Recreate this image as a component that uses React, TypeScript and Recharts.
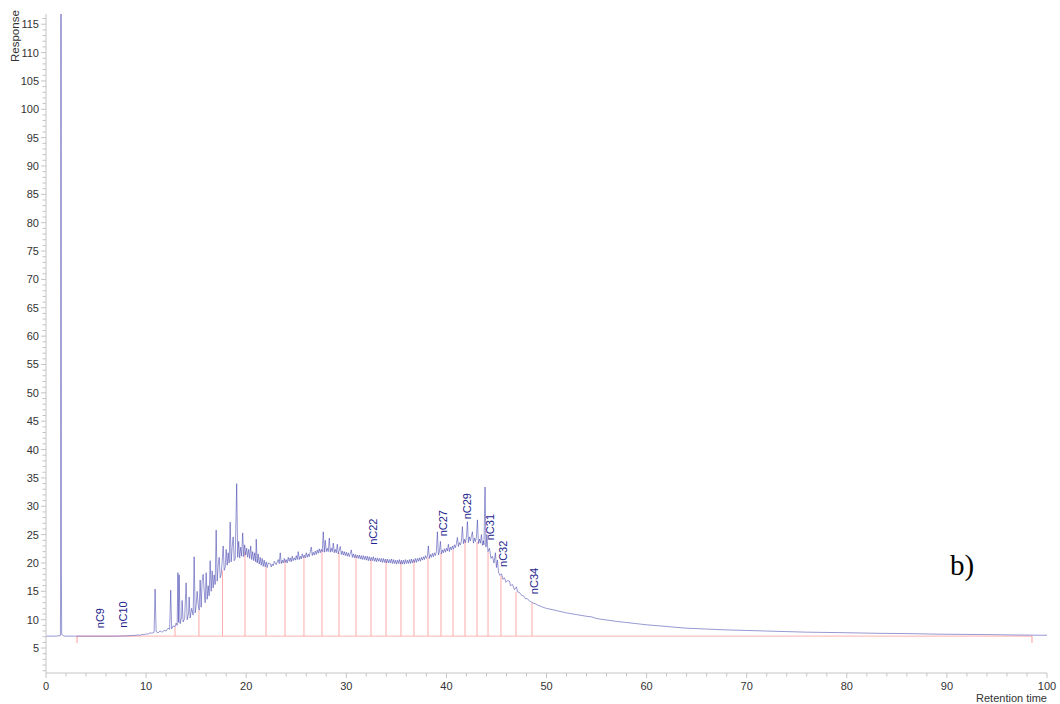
import React from 'react';
import { ComposedChart, Line, Scatter, XAxis, YAxis, ReferenceLine } from 'recharts';

// Chromatogram trace, [retention time, response]
const solventPeak: [number, number][] = [
  [0, 7.1], [1.0, 7.1], [1.44, 7.2], [1.47, 18.5], [1.5, 117], [1.53, 18.5], [1.57, 7.4],
  [1.8, 7.1], [3, 7.1], [5, 7.1], [7, 7.1], [8, 7.15], [8.6, 7.2], [9, 7.25],
];

const earlyTrace: [number, number][] = [
  [9.2, 7.3], [9.4, 7.25], [9.6, 7.4], [9.8, 7.35], [10.0, 7.5], [10.2, 7.45], [10.4, 7.7],
  [10.6, 7.6], [10.8, 7.8], [10.9, 15.4], [11.0, 7.9], [11.2, 7.7], [11.4, 8.0], [11.6, 7.8],
  [11.8, 8.1], [12.0, 8.0], [12.2, 8.5], [12.35, 8.3], [12.46, 15.2], [12.55, 8.4], [12.7, 8.9],
  [12.9, 8.8], [13.0, 9.4], [13.1, 9.0], [13.18, 18.3], [13.25, 9.5], [13.3, 17.9], [13.4, 9.3],
  [13.55, 10.5], [13.6, 13.4], [13.7, 9.6], [13.85, 10.2], [14.0, 16.5], [14.1, 10.0],
  [14.25, 11.2], [14.3, 14.0], [14.4, 10.3], [14.55, 12.0], [14.7, 10.8], [14.8, 21.1],
  [14.9, 11.2], [15.0, 12.5], [15.1, 15.0], [15.2, 12.8], [15.3, 11.7],
];

const humpTrace: [number, number][] = [
  [15.4, 17.0], [15.5, 12.2], [15.6, 16.8], [15.7, 18.0], [15.8, 15.2], [15.9, 13.0], [16.0, 18.3],
  [16.1, 13.6], [16.2, 16.0], [16.3, 14.2], [16.4, 20.4], [16.5, 15.0], [16.6, 18.6], [16.7, 15.6],
  [16.8, 17.9], [16.9, 16.2], [17.0, 25.8], [17.1, 16.8], [17.2, 19.6], [17.3, 21.0], [17.4, 17.4],
  [17.5, 18.0], [17.6, 20.3], [17.7, 23.0], [17.8, 18.7], [17.9, 19.2], [18.0, 22.4], [18.1, 19.6],
  [18.2, 21.8], [18.3, 20.0], [18.4, 27.2], [18.5, 20.2], [18.6, 22.9], [18.7, 24.6], [18.8, 20.4],
  [18.9, 20.7], [19.05, 34.0], [19.15, 21.0], [19.25, 23.8], [19.35, 20.9], [19.45, 22.8],
  [19.55, 21.2], [19.65, 25.3], [19.75, 21.1], [19.85, 23.2], [19.95, 21.4], [20.05, 22.6],
  [20.15, 21.0], [20.25, 22.4], [20.35, 20.8], [20.45, 23.0], [20.55, 20.6], [20.65, 22.0],
  [20.75, 20.4], [20.85, 21.8], [20.95, 20.2], [21.0, 24.2], [21.1, 20.0], [21.2, 21.6],
  [21.3, 19.8], [21.4, 21.0], [21.5, 19.6], [21.6, 20.8], [21.7, 19.4], [21.8, 20.5], [21.9, 19.3],
  [22.0, 20.2], [22.1, 19.2], [22.2, 20.0],
];

const plateauTrace: [number, number][] = [
  [22.4, 19.9], [22.5, 19.3], [22.6, 19.8], [22.7, 19.5], [22.8, 20.3], [23.0, 19.7], [23.1, 20.2],
  [23.2, 20.6], [23.3, 19.9], [23.4, 21.8], [23.5, 19.9], [23.6, 20.5], [23.7, 20.0], [23.8, 20.8],
  [23.9, 20.1], [24.0, 20.6], [24.1, 20.0], [24.2, 21.0], [24.3, 20.3], [24.4, 20.9], [24.5, 20.2],
  [24.6, 21.2], [24.7, 20.4], [24.8, 20.9], [24.9, 20.5], [25.0, 21.3], [25.1, 20.6], [25.2, 22.0],
  [25.3, 20.6], [25.4, 21.2], [25.5, 20.7], [25.6, 21.6], [25.7, 20.9], [25.8, 21.4], [25.9, 20.9],
  [26.0, 21.8], [26.1, 21.0], [26.2, 21.6], [26.3, 21.1], [26.4, 22.0], [26.5, 22.8], [26.6, 21.3],
  [26.7, 21.9], [26.8, 21.4], [26.9, 22.1], [27.0, 21.5], [27.1, 22.3], [27.2, 21.7], [27.3, 22.5],
  [27.4, 21.8], [27.5, 22.4], [27.6, 22.0], [27.7, 25.5], [27.8, 21.9], [27.9, 24.0], [28.0, 22.0],
  [28.1, 22.6], [28.2, 22.0], [28.3, 24.4], [28.4, 21.9], [28.5, 22.6], [28.6, 22.0], [28.7, 23.5],
  [28.8, 21.8], [28.9, 22.4], [29.0, 21.8], [29.1, 23.3], [29.2, 21.6], [29.3, 22.3], [29.4, 22.9],
  [29.5, 21.5], [29.6, 22.1], [29.7, 21.4], [29.8, 22.0], [29.9, 21.3], [30.0, 21.9], [30.1, 21.2],
  [30.2, 21.8], [30.3, 21.1], [30.4, 21.7], [30.5, 22.3], [30.6, 21.0], [30.7, 21.6], [30.8, 20.9],
  [30.9, 21.5], [31.0, 20.9], [31.1, 21.4], [31.2, 20.8], [31.3, 21.4], [31.4, 20.7], [31.5, 21.3],
  [31.6, 20.6], [31.7, 21.3], [31.8, 20.6], [31.9, 21.2], [32.0, 20.5], [32.1, 21.2], [32.2, 20.4],
  [32.3, 21.1], [32.4, 20.4], [32.5, 21.0], [32.6, 20.4], [32.7, 21.1], [32.8, 20.3], [32.9, 20.9],
  [33.0, 20.2], [33.1, 20.9], [33.2, 20.3], [33.3, 20.8], [33.4, 20.2], [33.5, 20.8], [33.6, 20.1],
  [33.7, 20.8], [33.8, 20.1], [33.9, 20.7], [34.0, 20.0], [34.1, 20.7], [34.2, 20.0], [34.3, 20.6],
  [34.4, 20.0], [34.5, 20.7], [34.6, 19.9], [34.7, 20.6], [34.8, 19.9], [34.9, 20.5], [35.0, 19.8],
  [35.1, 20.5], [35.2, 19.9], [35.3, 20.6], [35.4, 19.8], [35.5, 20.5], [35.6, 19.8], [35.7, 20.5],
  [35.8, 19.8], [35.9, 20.6], [36.0, 19.9], [36.1, 20.5], [36.2, 19.9], [36.3, 20.6], [36.4, 19.9],
  [36.5, 20.7], [36.6, 20.0], [36.7, 20.6], [36.8, 20.1], [36.9, 20.8], [37.0, 20.1], [37.1, 20.8],
  [37.2, 20.3], [37.3, 20.9], [37.4, 20.3], [37.5, 21.0], [37.6, 20.5], [37.7, 21.1], [37.8, 20.6],
  [37.9, 21.3], [38.0, 20.8], [38.1, 21.2], [38.2, 23.0], [38.3, 20.8], [38.4, 21.5], [38.5, 21.0],
  [38.6, 21.7], [38.7, 21.1], [38.8, 21.8], [38.9, 21.3], [39.0, 22.0], [39.1, 25.5], [39.2, 21.4],
  [39.3, 22.0], [39.4, 23.8], [39.5, 21.6], [39.6, 22.3], [39.7, 21.8], [39.8, 22.5], [39.9, 21.9],
  [40.0, 22.6], [40.1, 22.1], [40.2, 23.3], [40.3, 22.0], [40.4, 22.8], [40.5, 22.3], [40.6, 23.0],
  [40.7, 22.4], [40.8, 23.2], [40.9, 22.7], [41.0, 23.4], [41.1, 24.5], [41.2, 22.9], [41.3, 23.6],
  [41.4, 23.2], [41.5, 23.9], [41.6, 26.4], [41.7, 23.4], [41.8, 24.2], [41.9, 23.6], [42.0, 24.5],
  [42.1, 27.3], [42.2, 23.6], [42.3, 24.6], [42.4, 23.9], [42.5, 24.7], [42.6, 25.5], [42.7, 23.5],
  [42.8, 24.4], [42.9, 23.8], [43.0, 24.6], [43.1, 27.6], [43.2, 23.4], [43.3, 24.2], [43.4, 23.5],
  [43.5, 25.0], [43.6, 23.1], [43.7, 23.9], [43.75, 23.2], [43.86, 33.4], [43.95, 22.8],
  [44.05, 25.0], [44.15, 22.0],
];

const tailTrace: [number, number][] = [
  [44.3, 22.6], [44.45, 20.8], [44.6, 21.2], [44.75, 20.0], [44.9, 21.8], [45.0, 19.2], [45.1, 20.5],
  [45.2, 18.4], [45.35, 17.8], [45.5, 18.1], [45.65, 17.1], [45.8, 17.4], [45.95, 16.6], [46.1, 16.9],
  [46.3, 16.8], [46.4, 16.0], [46.6, 16.2], [46.8, 15.3], [47.0, 15.8], [47.1, 14.9], [47.3, 14.8],
  [47.5, 14.3], [47.7, 14.2], [47.9, 13.7], [48.1, 13.7], [48.3, 13.3], [48.5, 13.1], [48.7, 12.9],
  [48.9, 12.8], [49.2, 12.5], [49.5, 12.3], [49.8, 12.1], [50.0, 12.0], [51, 11.6], [52, 11.2],
  [53, 10.9], [54, 10.6], [54.5, 10.5], [55, 10.2], [56, 9.95], [57, 9.7], [58, 9.5], [59, 9.3],
  [60, 9.1], [62, 8.8], [64, 8.5], [66, 8.35], [68, 8.2], [70, 8.1], [72, 8.0], [74, 7.9], [76, 7.8],
  [78, 7.75], [80, 7.7], [83, 7.6], [86, 7.55], [89, 7.45], [92, 7.4], [95, 7.35], [97, 7.3], [100, 7.25],
];

// n-alkane integration marks (retention time, response at the peak)
const alkaneTimes = [12.89, 15.28, 17.63, 19.88, 21.98, 23.88, 25.77, 27.57, 29.27, 30.97, 32.47,
  33.97, 35.46, 36.76, 38.16, 39.46, 40.66, 41.86, 43.06, 44.16, 45.45, 46.95, 48.55];
const alkaneTops = [8.8, 11.7, 18.7, 22.0, 19.3, 20.5, 21.0, 22.3, 21.8, 21.2, 20.6,
  20.4, 20.2, 20.4, 21.0, 21.8, 22.3, 24.0, 23.7, 22.0, 17.7, 14.9, 13.0];
const baselineLevel = 7.1;
const baselineStart = 3.1;
const baselineEnd = 98.5;

const peakNames = ['nC9', 'nC10', 'nC22', 'nC27', 'nC29', 'nC31', 'nC32', 'nC34'];
const peakNameTimes = [5.2, 7.5, 32.47, 39.46, 41.86, 44.16, 45.45, 48.55];
const peakNameLevels = [8.5, 8.6, 23.2, 24.7, 27.7, 24.0, 19.3, 14.5];

const xTicks = Array.from({ length: 51 }, (_, i) => i * 2);
const yTicks = Array.from({ length: 116 }, (_, i) => i + 1);

const signal = [...solventPeak, ...earlyTrace, ...humpTrace, ...plateauTrace, ...tailTrace].map(
  ([t, v]) => ({ t, v })
);
const peakLabels = peakNames.map((name, i) => ({ name, t: peakNameTimes[i], y: peakNameLevels[i] }));

const AXIS = '#c4c4c4';
const FONT = 'Liberation Sans, Arial, sans-serif';

const YTick = ({ x, y, payload }: any) => {
  const major = payload.value % 5 === 0;
  return (
    <g>
      <line x1={x - (major ? 5 : 3.5)} x2={x} y1={y} y2={y} stroke={AXIS} />
      {major && (
        <text x={x - 7} y={y + 4} textAnchor="end" fontSize={11} fill="#333" fontFamily={FONT}>
          {payload.value}
        </text>
      )}
    </g>
  );
};

const XTick = ({ x, y, payload }: any) => {
  const major = payload.value % 10 === 0;
  return (
    <g>
      <line x1={x} x2={x} y1={y} y2={y + (major ? 5 : 3.5)} stroke={AXIS} />
      {major && (
        <text x={x} y={y + 17} textAnchor="middle" fontSize={11} fill="#333" fontFamily={FONT}>
          {payload.value}
        </text>
      )}
    </g>
  );
};

const PeakName = ({ cx, cy, payload }: any) => (
  <text
    transform={`translate(${cx + 6},${cy}) rotate(-90)`}
    fontSize={11}
    fill="#23238c"
    fontFamily={FONT}
  >
    {payload.name}
  </text>
);

export default function App() {
  return (
    <div style={{ position: 'absolute', left: 0, top: 0, width: 1060, height: 704, background: '#fff' }}>
      <ComposedChart width={1060} height={704} margin={{ top: 14, right: 13, bottom: 0, left: 0 }}>
        <XAxis
          dataKey="t"
          type="number"
          domain={[0, 100]}
          ticks={xTicks}
          interval={0}
          height={31}
          tickSize={0}
          tickMargin={0}
          tickLine={false}
          axisLine={{ stroke: AXIS }}
          tick={<XTick />}
        />
        <YAxis
          type="number"
          domain={[0.6, 116.8]}
          allowDataOverflow
          ticks={yTicks}
          interval={0}
          width={46}
          tickSize={0}
          tickMargin={0}
          tickLine={false}
          axisLine={{ stroke: AXIS }}
          tick={<YTick />}
        />
        <ReferenceLine
          segment={[{ x: baselineStart, y: baselineLevel }, { x: baselineEnd, y: baselineLevel }]}
          stroke="#ffb3b3"
        />
        <ReferenceLine
          segment={[{ x: baselineStart, y: 5.9 }, { x: baselineStart, y: baselineLevel }]}
          stroke="#ff9999"
        />
        <ReferenceLine
          segment={[{ x: baselineEnd, y: 5.9 }, { x: baselineEnd, y: baselineLevel }]}
          stroke="#ff9999"
        />
        {alkaneTimes.map((t, i) => (
          <ReferenceLine
            key={t}
            segment={[{ x: t, y: baselineLevel }, { x: t, y: alkaneTops[i] }]}
            stroke="#ffaaaa"
          />
        ))}
        <Line
          data={signal}
          dataKey="v"
          type="linear"
          stroke="#3a3aaa"
          strokeWidth={0.7}
          strokeOpacity={0.75}
          dot={false}
          isAnimationActive={false}
        />
        <Scatter data={peakLabels} dataKey="y" shape={<PeakName />} isAnimationActive={false} />
      </ComposedChart>
      <svg width={1060} height={704} style={{ position: 'absolute', left: 0, top: 0, pointerEvents: 'none' }}>
        <text transform="translate(19,62) rotate(-90)" fontSize={11.5} fill="#333" fontFamily={FONT}>
          Response
        </text>
        <text x={1047} y={702} textAnchor="end" fontSize={11} fill="#333" fontFamily={FONT}>
          Retention time
        </text>
        <text x={950} y={575} fontSize={29} fill="#000" fontFamily="Liberation Serif, Times New Roman, serif">
          b)
        </text>
      </svg>
    </div>
  );
}
